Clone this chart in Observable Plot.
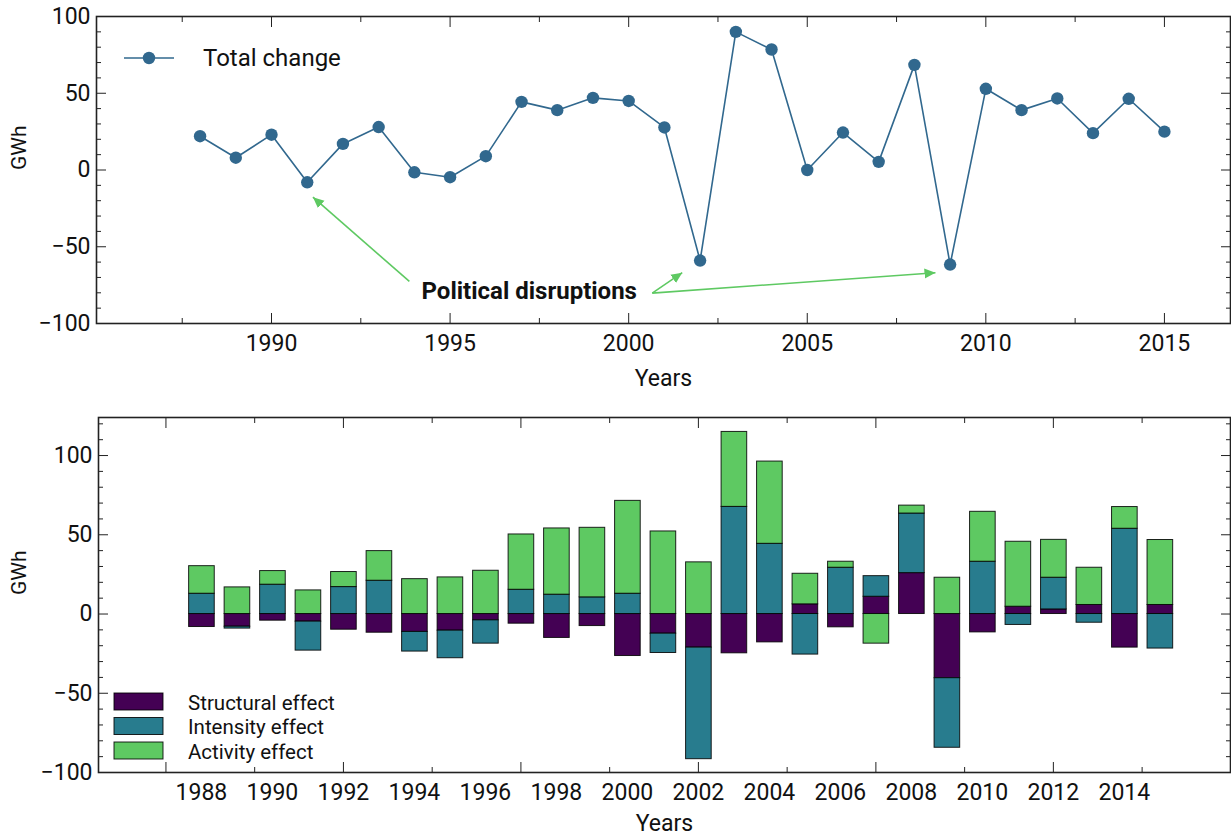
<!DOCTYPE html>
<html>
<head>
<meta charset="utf-8">
<script src="https://cdn.jsdelivr.net/npm/d3@7"></script>
<script src="https://cdn.jsdelivr.net/npm/@observablehq/plot@0.6"></script>
<style>
  body { margin: 0; background: #fff; font-family: Roboto, sans-serif; }
  #wrap { position: relative; width: 1231px; height: 837px; overflow: hidden; background: #fff; }
  #top { position: absolute; left: 0; top: 0; }
  #bottom { position: absolute; left: 0; top: 400px; }
  #legend { position: absolute; left: 0; top: 0; pointer-events: none; }
</style>
</head>
<body>
<div id="wrap">
  <div id="top"></div>
  <div id="bottom"></div>
  <svg id="legend" width="1231" height="837"></svg>
</div>
<script>
// ---------------- data ----------------
const years = [1988, 1989, 1990, 1991, 1992, 1993, 1994, 1995, 1996, 1997, 1998, 1999, 2000, 2001,
               2002, 2003, 2004, 2005, 2006, 2007, 2008, 2009, 2010, 2011, 2012, 2013, 2014, 2015];
const totalChange = [22, 8, 23, -8, 17, 28, -1.5, -4.7, 9, 44.4, 39, 47, 45, 27.7,
                     -59, 90, 78.5, 0, 24.4, 5.3, 68.5, -61.6, 52.9, 39, 46.6, 24, 46.4, 25];
const structural = [-8.2, -8, -4.2, -4.8, -9.9, -11.8, -11.3, -10.5, -4, -6.1, -15.1, -7.6, -26.5, -12.4,
                    -21.2, -24.8, -17.9, 6.1, -8.4, 10.9, 25.8, -40.5, -11.6, 4.6, 2.9, 5.7, -21.2, 5.7];
const intensity = [12.8, -1.2, 18.5, -18.3, 17, 21, -12.4, -17.4, -14.7, 15.3, 12.2, 10.5, 12.8, -12.2,
                   -70.4, 67.6, 44.3, -25.6, 29.2, 13, 37.6, -43.9, 33, -6.9, 20, -5.5, 53.8, -21.8];
const activity = [17.4, 16.8, 8.6, 14.9, 9.5, 18.7, 22, 23.1, 27.3, 34.9, 41.8, 43.9, 58.6, 52.1,
                  32.6, 47.3, 51.9, 19.3, 3.8, -18.7, 5.0, 22.9, 31.5, 41, 23.9, 23.5, 13.7, 41];
const effects = ["Structural effect", "Intensity effect", "Activity effect"];
const effectColors = ["#440154", "#287c8e", "#5ec962"];

// tick labels
const topXLabels = [1990, 1995, 2000, 2005, 2010, 2015];
const topXMinor = [1987.5, 1992.5, 1997.5, 2002.5, 2007.5, 2012.5];
const topYLabels = [-100, -50, 0, 50, 100];
const botXLabels = [1988, 1990, 1992, 1994, 1996, 1998, 2000, 2002, 2004, 2006, 2008, 2010, 2012, 2014];
const botXMajor = [1987, 1992, 1997, 2002, 2007, 2012];
const botXMinor = [1989.5, 1994.5, 1999.5, 2004.5, 2009.5, 2014.5];
const botYLabels = [-100, -50, 0, 50, 100];

// annotation
const annLabel = ["Political disruptions"];
const annX = [1994.2];
const annY = [-79];
const arrowX1 = [1993.86, 2000.66, 2000.66];
const arrowY1 = [-72.6, -80.2, -80.2];
const arrowX2 = [1991.16, 2001.5, 2008.59];
const arrowY2 = [-17.7, -66.9, -66.9];

// ---------------- tables ----------------
const lineData = years.map((y, i) => ({year: y, total: totalChange[i]}));
const series = [structural, intensity, activity];
const barData = effects.flatMap((e, k) => years.map((y, i) => ({year: y, effect: e, value: series[k][i]})));
const arrows = arrowX1.map((x, i) => ({x1: x, y1: arrowY1[i], x2: arrowX2[i], y2: arrowY2[i]}));
const annotations = annLabel.map((t, i) => ({label: t, x: annX[i], y: annY[i]}));

const lineColor = "#31688e";
const arrowColor = "#5ec962";
const ink = "#222";
const fmtY = d => d < 0 ? "\u2212" + Math.abs(d) : String(d);
const fmtX = d => String(d);

function filledArrow(color, context) {
  const doc = (context && context.document) || document;
  const ns = "http://www.w3.org/2000/svg";
  const m = doc.createElementNS(ns, "marker");
  m.setAttribute("viewBox", "-10 -5 10 10");
  m.setAttribute("markerUnits", "userSpaceOnUse");
  m.setAttribute("markerWidth", "11");
  m.setAttribute("markerHeight", "11");
  m.setAttribute("refX", "0");
  m.setAttribute("refY", "0");
  m.setAttribute("orient", "auto");
  const p = doc.createElementNS(ns, "path");
  p.setAttribute("d", "M-10,-4.5L0,0L-10,4.5Z");
  p.setAttribute("fill", color);
  p.setAttribute("stroke", "none");
  m.appendChild(p);
  return m;
}

// inward tick helper marks
function ticksX(values, size, anchor) {
  return Plot.axisX(values, {anchor, tickSize: -size, fill: null, stroke: ink, strokeWidth: 1, label: null});
}
function ticksY(values, size, anchor) {
  return Plot.axisY(values, {anchor, tickSize: -size, fill: null, stroke: ink, strokeWidth: 1, label: null});
}

// ---------------- top panel ----------------
const topYMinor = d3.range(-90, 100, 10).filter(v => v % 50 !== 0);
const topPlot = Plot.plot({
  width: 1231, height: 400,
  marginLeft: 96, marginRight: 1, marginTop: 16, marginBottom: 77,
  style: {fontFamily: "Roboto, sans-serif", fontSize: "23px", color: "#111", background: "#fff", overflow: "visible"},
  x: {domain: [1985.1, 2016.85]},
  y: {domain: [-100, 100]},
  marks: [
    ticksX(topXLabels, 10, "bottom"), ticksX(topXMinor, 5, "bottom"),
    ticksX(topXLabels, 10, "top"), ticksX(topXMinor, 5, "top"),
    ticksY(topYLabels, 10, "left"), ticksY(topYMinor, 5, "left"),
    ticksY(topYLabels, 10, "right"), ticksY(topYMinor, 5, "right"),
    Plot.axisX(topXLabels, {anchor: "bottom", tickSize: 0, tickPadding: 11, tickFormat: fmtX, label: null}),
    Plot.axisY(topYLabels, {anchor: "left", tickSize: 0, tickPadding: 6, tickFormat: fmtY, label: null}),
    Plot.text(["GWh"], {frameAnchor: "left", dx: -77, rotate: -90, fontSize: 21}),
    Plot.text(["Years"], {frameAnchor: "bottom", dy: 62, fontSize: 23}),
    Plot.line(lineData, {x: "year", y: "total", stroke: lineColor, strokeWidth: 1.6}),
    Plot.dot(lineData, {x: "year", y: "total", r: 6.2, fill: lineColor, stroke: null}),
    Plot.link(arrows, {x1: "x1", y1: "y1", x2: "x2", y2: "y2", stroke: arrowColor, strokeWidth: 1.6, markerEnd: filledArrow}),
    Plot.text(annotations, {x: "x", y: "y", text: "label", textAnchor: "start", fontWeight: "bold", fontSize: 24, fill: "#111"}),
    Plot.frame({stroke: ink, strokeWidth: 1.6})
  ]
});
document.getElementById("top").appendChild(topPlot);

// ---------------- bottom panel ----------------
const botYMinor = d3.range(-90, 130, 10).filter(v => v % 50 !== 0);
const barInterval = {floor: x => x - 0.375, offset: x => x + 0.75};
const botPlot = Plot.plot({
  width: 1231, height: 437,
  marginLeft: 98, marginRight: 1, marginTop: 17, marginBottom: 65,
  style: {fontFamily: "Roboto, sans-serif", fontSize: "23px", color: "#111", background: "#fff", overflow: "visible"},
  x: {domain: [1985.1, 2016.99]},
  y: {domain: [-100, 124]},
  color: {domain: effects, range: effectColors},
  marks: [
    Plot.rectY(barData, {x: "year", y: "value", fill: "effect", interval: barInterval,
                         stroke: "#000", strokeWidth: 1, strokeOpacity: 0.85}),
    ticksX(botXMajor, 10, "bottom"), ticksX(botXMinor, 5, "bottom"),
    ticksX(botXMajor, 10, "top"), ticksX(botXMinor, 5, "top"),
    ticksY(botYLabels, 10, "left"), ticksY(botYMinor, 5, "left"),
    ticksY(botYLabels, 10, "right"), ticksY(botYMinor, 5, "right"),
    Plot.axisX(botXLabels, {anchor: "bottom", tickSize: 0, tickPadding: 11, tickFormat: fmtX, label: null}),
    Plot.axisY(botYLabels, {anchor: "left", tickSize: 0, tickPadding: 6, tickFormat: fmtY, label: null}),
    Plot.text(["GWh"], {frameAnchor: "left", dx: -79, rotate: -90, fontSize: 21}),
    Plot.text(["Years"], {frameAnchor: "bottom", dy: 58, fontSize: 23}),
    Plot.frame({stroke: ink, strokeWidth: 1.6})
  ]
});
document.getElementById("bottom").appendChild(botPlot);

// ---------------- legends ----------------
const leg = d3.select("#legend");
const topLeg = leg.append("g").attr("transform", "translate(124,58)");
topLeg.append("line").attr("x1", 0).attr("x2", 50).attr("y1", 0).attr("y2", 0)
  .attr("stroke", lineColor).attr("stroke-width", 1.6);
topLeg.append("circle").attr("cx", 25).attr("cy", 0).attr("r", 6.2).attr("fill", lineColor);
topLeg.append("text").attr("x", 79).attr("y", 0).attr("dy", "0.35em")
  .attr("font-family", "Roboto, sans-serif").attr("font-size", 24).attr("fill", "#111").text("Total change");

const botLeg = leg.append("g").attr("transform", "translate(114,693)");
effects.forEach((e, i) => {
  const g = botLeg.append("g").attr("transform", `translate(0,${i * 24.5})`);
  g.append("rect").attr("width", 49).attr("height", 17).attr("fill", effectColors[i])
    .attr("stroke", "#000").attr("stroke-width", 1).attr("stroke-opacity", 0.85);
  g.append("text").attr("x", 74).attr("y", 9.5).attr("dy", "0.35em")
    .attr("font-family", "Roboto, sans-serif").attr("font-size", 20.5).attr("fill", "#111").text(e);
});
</script>
</body>
</html>
